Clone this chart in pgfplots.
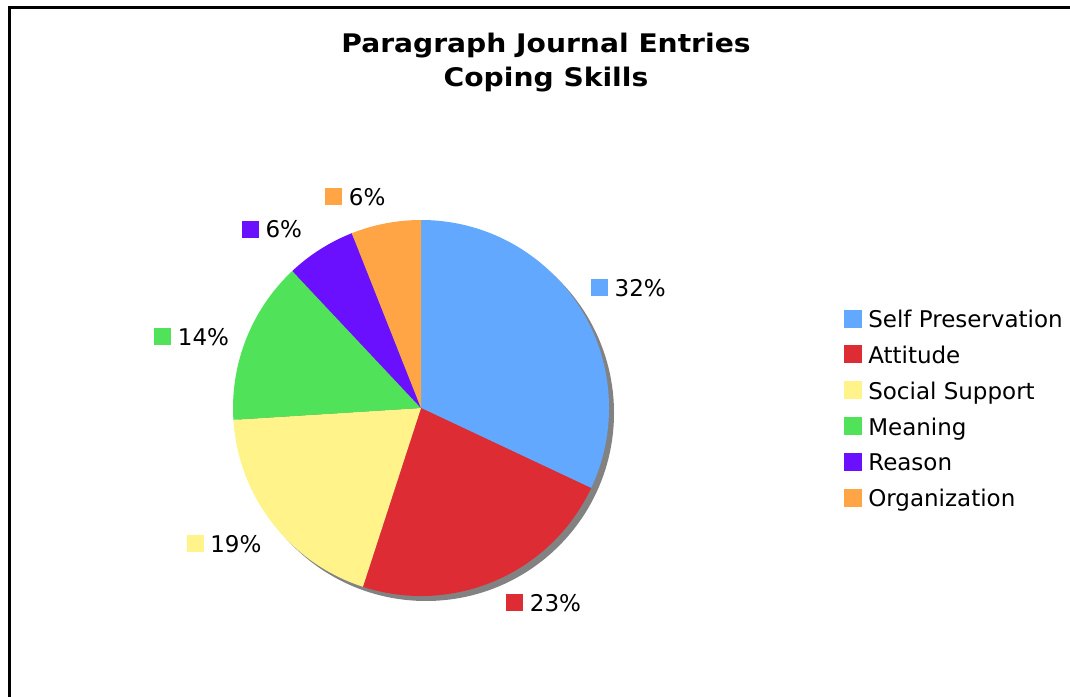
\documentclass[border=0pt]{standalone}
\usepackage{fontspec}
\setmainfont{DejaVu Sans}
\newfontfamily\titlefont[FakeStretch=1.1]{DejaVu Sans}
\usepackage{pgfplots}
\pgfplotsset{compat=1.18}
\definecolor{cSelf}{HTML}{63A8FF}
\definecolor{cAtt}{HTML}{DD2C33}
\definecolor{cSoc}{HTML}{FFF38A}
\definecolor{cMean}{HTML}{50E35A}
\definecolor{cReas}{HTML}{6A10FF}
\definecolor{cOrg}{HTML}{FFA545}
\definecolor{shadow}{HTML}{828282}
\newcommand\lbl{\fontsize{17.25pt}{20pt}\selectfont}
\newcommand\ttl{\titlefont\bfseries\fontsize{19.2pt}{22pt}\selectfont}

% pie in pixel units: centre (421,288), radius 188 (1 unit = 0.75pt)
% #1 cumulative percent before, #2 percent, #3 colour, #4 name, #5 legend row,
% #6 label anchor, #7 #8 label position (pixels from left / from top)
\newcommand\slice[8]{%
  \pgfmathsetmacro\sa{90-3.6*#1}%
  \pgfmathsetmacro\ea{90-3.6*(#1+#2)}%
  \pgfmathsetmacro\px{421+188*cos(\sa)}%
  \pgfmathsetmacro\py{288+188*sin(\sa)}%
  \pgfmathsetmacro\ly{696-#8}%
  \pgfmathsetmacro\ry{696-327.7-35.8*#5}%
  \pgfmathsetmacro\rt{\ry+18}%
  \edef\temp{%
    \noexpand\fill[#3] (axis cs:421,288) -- (axis cs:\px,\py) arc[start angle=\sa, end angle=\ea, radius=141pt] -- cycle;
    \noexpand\node[anchor=#6, inner sep=0pt, font=\noexpand\lbl] at (axis cs:#7,\ly)
      {\noexpand\textcolor{#3}{\noexpand\rule{12.75pt}{12.75pt}}\noexpand\hspace{5pt}#2\noexpand\%};
    \noexpand\fill[#3] (axis cs:844,\ry) rectangle (axis cs:862,\rt);
    \noexpand\node[anchor=base west, inner sep=0pt, font=\noexpand\lbl] at (axis cs:868,\ry) {#4};
  }\temp}

\begin{document}
\begin{tikzpicture}
\path[use as bounding box] (0,0) rectangle (802.5pt,522pt);
\begin{axis}[at={(0,0)}, anchor=south west,
  width=802.5pt, height=522pt, scale only axis,
  xmin=0, xmax=1070, ymin=0, ymax=696,
  hide axis, clip=false]
\draw[line width=1.7pt] (axis cs:9.5,-5) -- (axis cs:9.5,688.5) -- (axis cs:1075,688.5);
\node[font=\ttl, anchor=base] at (axis cs:546,643.3) {Paragraph Journal Entries};
\node[font=\ttl, anchor=base] at (axis cs:546,609.5) {Coping Skills};
\fill[shadow] (axis cs:426,283) circle[radius=141pt];
\slice{0}{32}{cSelf}{Self Preservation}{0}{west}{590.7}{288}
\slice{32}{23}{cAtt}{Attitude}{1}{west}{506}{603}
\slice{55}{19}{cSoc}{Social Support}{2}{east}{261.7}{544}
\slice{74}{14}{cMean}{Meaning}{3}{east}{229.3}{337}
\slice{88}{6}{cReas}{Reason}{4}{east}{302.3}{229.3}
\slice{94}{6}{cOrg}{Organization}{5}{east}{385.7}{196.7}
\end{axis}
\end{tikzpicture}
\end{document}
